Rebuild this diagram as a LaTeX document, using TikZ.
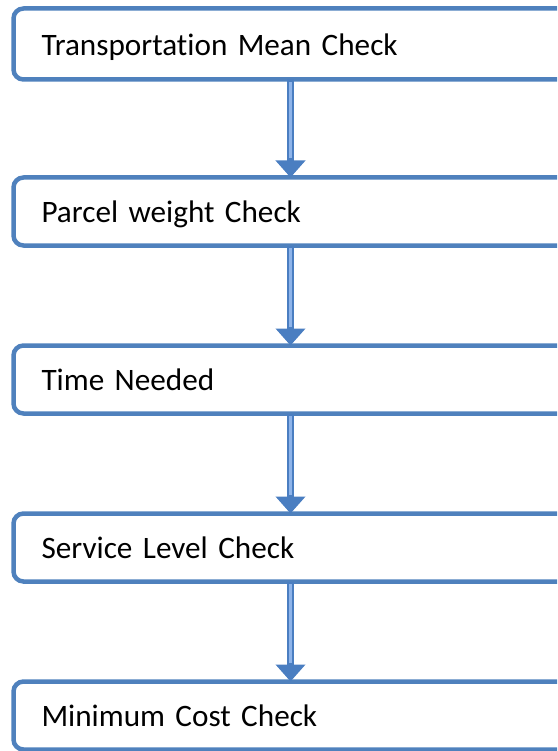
\documentclass[tikz,border=0pt]{standalone}
\usepackage{fontspec}
\setmainfont{Carlito}[Ligatures=NoCommon]
\usetikzlibrary{positioning, arrows.meta}
\definecolor{boxblue}{RGB}{79, 129, 189}
\definecolor{linkblue}{RGB}{74, 126, 193}
\definecolor{shaftlight}{RGB}{142, 180, 234}

\begin{document}
\begin{tikzpicture}[
    checkbox/.style={draw=boxblue, line width=4.5pt, rounded corners=10pt,
      outer sep=0pt, minimum width=554pt, minimum height=68pt,
      inner xsep=28pt, inner ysep=0pt, text width=498pt, align=left,
      text height=29.5pt, text depth=7pt,
      font=\fontsize{31.2}{36}\selectfont},
    link/.style={draw=linkblue, line width=7pt,
      -{Triangle[width=29pt, length=17pt]},
      postaction={draw=shaftlight, line width=3pt, -, shorten >=19pt, shorten <=2.5pt}}
  ]
    \useasboundingbox (0,0) rectangle (557pt,-751pt);
    \clip (0,0) rectangle (557pt,-751pt);

    % Check steps
    \node[checkbox, minimum height=71pt, anchor=north west] (mode) at (13.5pt,-8.5pt)
         {Transportation Mean Check};
    \node[checkbox, below=98pt of mode]  (weight) {Parcel weight Check};
    \node[checkbox, below=100pt of weight] (time)   {Time Needed};
    \node[checkbox, below=100pt of time]   (level)  {Service Level Check};
    \node[checkbox, below=100pt of level]  (cost)   {Minimum Cost Check};

    % Flow arrows
    \draw[link] (mode)   -- (weight);
    \draw[link] (weight) -- (time);
    \draw[link] (time)   -- (level);
    \draw[link] (level)  -- (cost);

\end{tikzpicture}
\end{document}
